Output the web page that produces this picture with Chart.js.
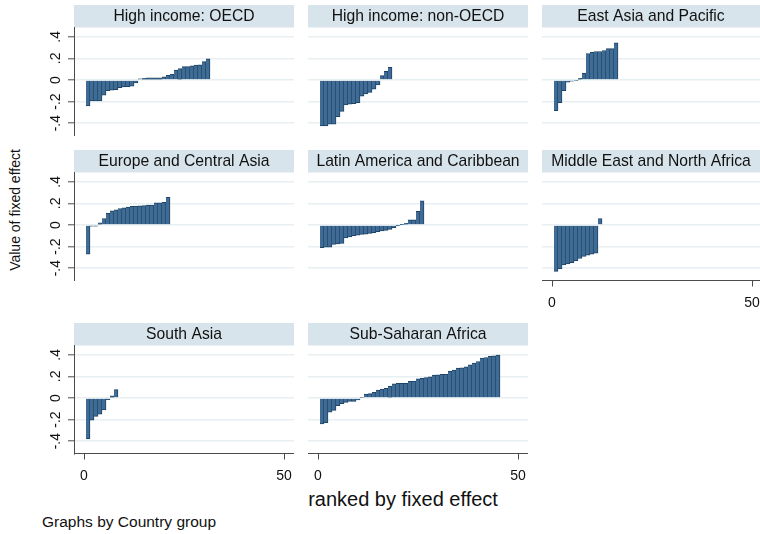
<!DOCTYPE html>
<html>
<head>
<meta charset="utf-8">
<title>Value of fixed effect by country group</title>
<script src="https://cdn.jsdelivr.net/npm/chart.js@4.4.1/dist/chart.umd.min.js"></script>
<style>
  html, body { margin: 0; padding: 0; background: #fff; }
  #page {
    position: relative; width: 760px; height: 534px; overflow: hidden;
    font-family: "Liberation Sans", Arial, Helvetica, sans-serif; color: #111;
  }
  .panel { position: absolute; }
  .panel canvas { display: block; }
  #ytitle {
    position: absolute; left: 15px; top: 210px; white-space: nowrap;
    font-size: 14px; transform: translate(-50%, -50%) rotate(-90deg);
  }
  #xtitle {
    position: absolute; left: 403px; top: 499px; white-space: nowrap;
    font-size: 20px; transform: translate(-50%, -50%);
  }
  #note {
    position: absolute; left: 42px; top: 522px; white-space: nowrap;
    font-size: 15.5px; transform: translateY(-50%);
  }
</style>
</head>
<body>
<div id="page">
  <div id="ytitle">Value of fixed effect</div>
  <div id="xtitle">ranked by fixed effect</div>
  <div id="note">Graphs by Country group</div>
</div>
<script>
// Country fixed effects, sorted ascending within each group (rank 1 = lowest)
const HIGH_INCOME_OECD = [-0.24, -0.194, -0.194, -0.194, -0.14, -0.10, -0.095, -0.09, -0.07, -0.065,
  -0.062, -0.058, -0.028, 0.01, 0.015, 0.02, 0.02, 0.02, 0.02, 0.03, 0.043, 0.052, 0.092, 0.105,
  0.123, 0.123, 0.132, 0.138, 0.141, 0.17, 0.197];
const HIGH_INCOME_NON_OECD = [-0.425, -0.425, -0.41, -0.41, -0.34, -0.29, -0.23, -0.225, -0.22,
  -0.21, -0.15, -0.13, -0.115, -0.085, -0.045, 0.04, 0.08, 0.118];
const EAST_ASIA_PACIFIC = [-0.285, -0.21, -0.10, -0.02, -0.012, -0.006, 0.015, 0.065, 0.245,
  0.257, 0.264, 0.264, 0.273, 0.29, 0.29, 0.344];
const EUROPE_CENTRAL_ASIA = [-0.27, -0.01, -0.01, 0.02, 0.06, 0.107, 0.13, 0.14, 0.153, 0.16,
  0.166, 0.172, 0.175, 0.178, 0.18, 0.184, 0.184, 0.206, 0.206, 0.21, 0.255];
const LATIN_AMERICA_CARIBBEAN = [-0.21, -0.205, -0.205, -0.18, -0.175, -0.17, -0.12, -0.11, -0.10,
  -0.095, -0.087, -0.085, -0.078, -0.072, -0.063, -0.056, -0.05, -0.04, -0.025, -0.003, 0.003,
  0.015, 0.047, 0.047, 0.127, 0.224];
const MIDDLE_EAST_NORTH_AFRICA = [-0.43, -0.405, -0.37, -0.36, -0.35, -0.33, -0.31, -0.29, -0.28,
  -0.27, -0.26, 0.06];
const SOUTH_ASIA = [-0.38, -0.205, -0.17, -0.15, -0.11, -0.015, 0.02, 0.077];
const SUB_SAHARAN_AFRICA = [-0.24, -0.228, -0.132, -0.114, -0.071, -0.052, -0.04, -0.031, -0.031,
  -0.018, 0.006, 0.037, 0.04, 0.052, 0.074, 0.083, 0.089, 0.11, 0.132, 0.135, 0.135, 0.135, 0.154,
  0.157, 0.178, 0.182, 0.188, 0.197, 0.212, 0.215, 0.218, 0.218, 0.249, 0.258, 0.277, 0.28, 0.289,
  0.308, 0.323, 0.338, 0.369, 0.375, 0.385, 0.39, 0.397];

const GROUP_NAMES = ['High income: OECD', 'High income: non-OECD', 'East Asia and Pacific',
  'Europe and Central Asia', 'Latin America and Caribbean', 'Middle East and North Africa',
  'South Asia', 'Sub-Saharan Africa'];
const Y_TICKS = [-0.4, -0.2, 0, 0.2, 0.4];
const Y_TICK_LABELS = ['-.4', '-.2', '0', '.2', '.4'];
const X_TICKS = [0, 50];
const X_TICK_LABELS = ['0', '50'];

const GROUP_VALUES = [HIGH_INCOME_OECD, HIGH_INCOME_NON_OECD, EAST_ASIA_PACIFIC,
  EUROPE_CENTRAL_ASIA, LATIN_AMERICA_CARIBBEAN, MIDDLE_EAST_NORTH_AFRICA, SOUTH_ASIA,
  SUB_SAHARAN_AFRICA];

// Panel grid geometry (3 x 3, last cell empty)
const FONT = '"Liberation Sans", Arial, Helvetica, sans-serif';
const COL_LEFT = [74, 308, 542];
const ROW_TOP = [5, 150, 323];
const TITLE_H = 22.5, PLOT_H = 108, PLOT_W = 220, X_AXIS_H = 30, PAGE_W = 760;
const X_MIN = -2.5, PX_PER_UNIT = 4;
const Y_MIN = -0.514, Y_MAX = 0.486;
const X_AXIS_PANELS = [5, 6, 7];

const BAR_FILL = '#3f6b94';
const BAR_EDGE = '#1d4366';
const GRID = '#e7eff2';
const AXIS = '#4a4a4a';
const TEXT = '#111';
const BAND = '#d8e4eb';

// Shaded strip behind each panel heading
const titleBand = {
  id: 'titleBand',
  beforeDraw(chart) {
    const a = chart.chartArea;
    const ctx = chart.ctx;
    ctx.save();
    ctx.fillStyle = BAND;
    ctx.fillRect(a.left, 0, a.right - a.left, a.top);
    ctx.restore();
  }
};

const page = document.getElementById('page');

GROUP_NAMES.forEach((name, i) => {
  const row = Math.floor(i / 3), col = i % 3;
  const hasY = col === 0;
  const hasX = X_AXIS_PANELS.includes(i);
  const left = hasY ? 0 : COL_LEFT[col];
  const axisW = hasY ? COL_LEFT[0] : 0;
  const plotW = Math.min(PLOT_W, PAGE_W - COL_LEFT[col]);
  const width = axisW + plotW;
  const used = TITLE_H + PLOT_H + (hasX ? X_AXIS_H : 0);
  const height = Math.ceil(used);

  const wrap = document.createElement('div');
  wrap.className = 'panel';
  wrap.style.left = left + 'px';
  wrap.style.top = ROW_TOP[row] + 'px';
  const canvas = document.createElement('canvas');
  canvas.width = width; canvas.height = height;
  canvas.style.width = width + 'px'; canvas.style.height = height + 'px';
  wrap.appendChild(canvas);
  page.appendChild(wrap);

  const lineH = 1.2, titleSize = 15.7;
  new Chart(canvas, {
    type: 'bar',
    data: {
      datasets: [{
        label: name,
        data: GROUP_VALUES[i].map((v, k) => ({ x: k + 1, y: v })),
        backgroundColor: BAR_FILL,
        borderColor: BAR_EDGE,
        borderWidth: { left: 0, right: 1, top: 1, bottom: 1 },
        borderSkipped: 'start',
        barPercentage: 1,
        categoryPercentage: 1
      }]
    },
    options: {
      responsive: false,
      animation: false,
      devicePixelRatio: 1,
      layout: { padding: { left: 0, right: 0, top: 0, bottom: height - used } },
      plugins: {
        legend: { display: false },
        tooltip: { enabled: false },
        title: {
          display: true,
          text: name,
          fullSize: false,
          align: 'center',
          color: TEXT,
          font: { family: FONT, size: titleSize, weight: 'normal', lineHeight: lineH },
          padding: { top: 2, bottom: TITLE_H - 2 - titleSize * lineH }
        }
      },
      scales: {
        x: {
          type: 'linear',
          display: hasX,
          bounds: 'data',
          min: X_MIN,
          max: X_MIN + plotW / PX_PER_UNIT,
          offset: false,
          grid: { offset: false, drawOnChartArea: false, color: AXIS, tickColor: AXIS,
                  tickLength: 6, tickWidth: 1 },
          border: { display: true, color: AXIS, width: 1 },
          ticks: {
            autoSkip: false, minRotation: 0, maxRotation: 0, padding: 8, color: TEXT,
            font: { family: FONT, size: 14 },
            callback: (v, idx) => X_TICK_LABELS[idx]
          },
          afterBuildTicks: s => { s.ticks = X_TICKS.map(v => ({ value: v })); },
          afterFit: s => {
            s.height = hasX ? X_AXIS_H : 0;
            s.paddingLeft = 0; s.paddingRight = 0;
          }
        },
        y: {
          type: 'linear',
          display: true,
          bounds: 'data',
          min: Y_MIN,
          max: Y_MAX,
          grid: { color: GRID, lineWidth: 1.6, drawTicks: hasY, tickLength: 6,
                  tickColor: AXIS, tickWidth: 1 },
          border: { display: hasY, color: AXIS, width: 1 },
          ticks: {
            display: hasY, autoSkip: false, minRotation: 90, maxRotation: 90,
            crossAlign: 'center', padding: 4, color: TEXT,
            font: { family: FONT, size: 14 },
            callback: (v, idx) => Y_TICK_LABELS[idx]
          },
          afterBuildTicks: s => { s.ticks = Y_TICKS.map(v => ({ value: v })); },
          afterFit: s => {
            s.width = axisW;
            s.paddingTop = 0; s.paddingBottom = 0;
          }
        }
      }
    },
    plugins: [titleBand]
  });
});
</script>
</body>
</html>
